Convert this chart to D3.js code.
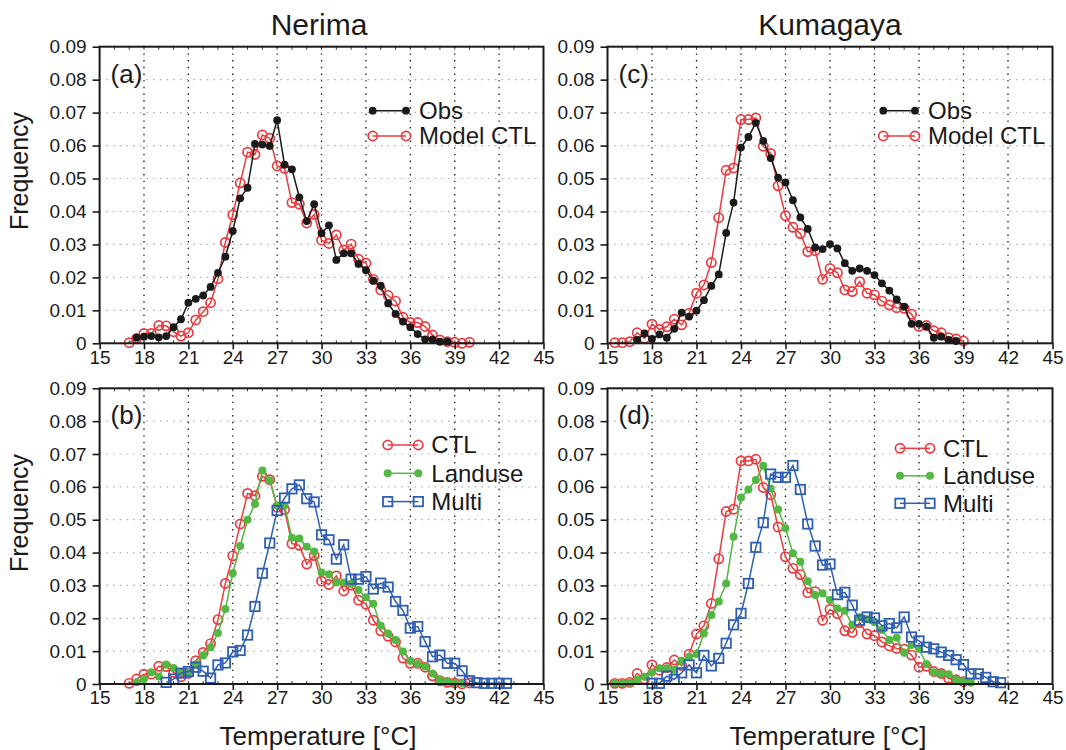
<!DOCTYPE html>
<html><head><meta charset="utf-8">
<script src="https://cdn.jsdelivr.net/npm/d3@7"></script>
<style>
body{margin:0;background:#fff;}
text{font-family:"Liberation Sans",Arial,Helvetica,sans-serif;fill:#1a1a1a;}
</style></head>
<body><svg id="chart" width="1066" height="750"></svg>
<script>
// temperature bins (°C)
const bins = [15.0,15.5,16.0,16.5,17.0,17.5,18.0,18.5,19.0,19.5,
  20.0,20.5,21.0,21.5,22.0,22.5,23.0,23.5,24.0,24.5,
  25.0,25.5,26.0,26.5,27.0,27.5,28.0,28.5,29.0,29.5,
  30.0,30.5,31.0,31.5,32.0,32.5,33.0,33.5,34.0,34.5,
  35.0,35.5,36.0,36.5,37.0,37.5,38.0,38.5,39.0,39.5,
  40.0,40.5,41.0,41.5,42.0,42.5];
const xTicks = [15,18,21,24,27,30,33,36,39,42,45];
const yTicks = [0,0.01,0.02,0.03,0.04,0.05,0.06,0.07,0.08,0.09];

const nerimaObs = [null,null,null,null,null,0.0017,0.0020,0.0022,0.0018,0.0022,
  0.0049,0.0073,0.0123,0.0135,0.0145,0.0171,0.0214,0.0263,0.0341,0.0440,
  0.0472,0.0605,0.0603,0.0599,0.0677,0.0542,0.0528,0.0443,0.0371,0.0422,
  0.0334,0.0358,0.0253,0.0273,0.0273,0.0241,0.0222,0.0190,0.0175,0.0121,
  0.0089,0.0066,0.0049,0.0028,0.0012,0.0012,0.0005,0.0005,null,null,
  null,null,null,null,null,null];
const nerimaCTL = [null,null,null,null,0.0002,0.0015,0.0030,0.0030,0.0054,0.0053,
  0.0035,0.0022,0.0032,0.0071,0.0096,0.0123,0.0196,0.0306,0.0390,0.0487,
  0.0580,0.0573,0.0632,0.0622,0.0538,0.0531,0.0427,0.0422,0.0365,0.0391,
  0.0313,0.0303,0.0329,0.0283,0.0301,0.0255,0.0243,0.0194,0.0162,0.0145,
  0.0128,0.0079,0.0063,0.0063,0.0051,0.0025,0.0010,0.0005,0.0003,0.0000,
  0.0003,null,null,null,null,null];
const nerimaLanduse = [null,null,null,null,null,0.0005,0.0015,0.0036,0.0023,0.0059,
  0.0049,0.0035,0.0035,0.0060,0.0087,0.0112,0.0155,0.0228,0.0337,0.0420,
  0.0500,0.0548,0.0650,0.0620,0.0543,0.0543,0.0445,0.0443,0.0418,0.0403,
  0.0339,0.0334,0.0309,0.0309,0.0305,0.0286,0.0264,0.0244,0.0177,0.0154,
  0.0134,0.0099,0.0071,0.0061,0.0053,0.0032,0.0012,0.0007,0.0004,0.0002,
  null,null,null,null,null,null];
const nerimaMulti = [null,null,null,null,null,null,null,null,null,0.0005,
  0.0015,0.0033,0.0038,0.0051,0.0039,0.0018,0.0058,0.0064,0.0098,0.0102,
  0.0149,0.0236,0.0337,0.0429,0.0528,0.0566,0.0594,0.0606,0.0564,0.0554,
  0.0454,0.0439,0.0380,0.0424,0.0319,0.0319,0.0327,0.0289,0.0307,0.0295,
  0.0251,0.0224,0.0170,0.0175,0.0129,0.0083,0.0088,0.0063,0.0063,0.0040,
  0.0010,0.0004,0.0002,0.0002,0.0002,0.0002];
const kumaObs = [null,null,null,null,0.0010,0.0030,0.0013,0.0027,0.0017,0.0044,
  0.0093,0.0081,0.0099,0.0131,0.0174,0.0209,0.0335,0.0427,0.0594,0.0626,
  0.0669,0.0614,0.0562,0.0503,0.0488,0.0434,0.0382,0.0347,0.0291,0.0286,
  0.0301,0.0288,0.0243,0.0220,0.0227,0.0220,0.0207,0.0182,0.0160,0.0133,
  0.0111,0.0059,0.0059,0.0051,0.0017,0.0020,0.0010,0.0007,null,null,
  null,null,null,null,null,null];
const kumaCTL = [null,0.0002,0.0002,0.0005,0.0032,0.0015,0.0058,0.0042,0.0050,0.0073,
  0.0056,0.0091,0.0152,0.0177,0.0245,0.0381,0.0525,0.0532,0.0679,0.0679,
  0.0684,0.0598,0.0576,0.0478,0.0387,0.0352,0.0333,0.0278,0.0281,0.0194,
  0.0227,0.0214,0.0162,0.0157,0.0187,0.0152,0.0147,0.0128,0.0116,0.0108,
  0.0106,0.0088,0.0051,0.0054,0.0038,0.0032,0.0017,0.0013,0.0007,null,
  null,null,null,null,null,null];
const kumaLanduse = [null,0.0002,0.0002,0.0004,0.0014,0.0022,0.0035,0.0048,0.0048,0.0043,
  0.0071,0.0083,0.0091,0.0154,0.0210,0.0251,0.0306,0.0448,0.0568,0.0592,
  0.0621,0.0664,0.0595,0.0531,0.0474,0.0398,0.0372,0.0313,0.0271,0.0276,
  0.0256,0.0230,0.0223,0.0180,0.0203,0.0197,0.0188,0.0164,0.0134,0.0141,
  0.0095,0.0119,0.0107,0.0061,0.0036,0.0032,0.0030,0.0013,0.0008,0.0004,
  null,null,null,null,null,null];
const kumaMulti = [null,null,null,null,null,null,0.0002,0.0002,0.0024,0.0014,
  0.0034,0.0058,0.0034,0.0087,0.0055,0.0078,0.0124,0.0180,0.0215,0.0306,
  0.0416,0.0491,0.0639,0.0629,0.0629,0.0665,0.0592,0.0487,0.0420,0.0362,
  0.0365,0.0272,0.0279,0.0240,0.0194,0.0204,0.0201,0.0177,0.0184,0.0171,
  0.0204,0.0143,0.0131,0.0112,0.0107,0.0097,0.0087,0.0074,0.0059,0.0031,
  0.0031,0.0020,0.0007,0.0004,null,null];

const RED = "#ec3b3f", GREEN = "#52b843", BLUE = "#2f5fb3", BLACK = "#1a1a1a";
const sty = {
  obs:   {color: BLACK, marker: "dot", r: 3.9},
  ctl:   {color: RED, marker: "ring", r: 4.6},
  land:  {color: GREEN, marker: "dot", r: 4.0},
  multi: {color: BLUE, marker: "square", r: 4.7}
};

const L = {x0: 99.6, x1: 543.5}, R = {x0: 607.5, x1: 1052.5};
const T = {y0: 46.7, y1: 343.3}, B = {y0: 388.3, y1: 684};

const panels = [
  {tag: "(a)", h: L, v: T, series: [["Model CTL", nerimaCTL, "ctl"], ["Obs", nerimaObs, "obs"]],
   legend: {x: 372.7, y: 110.7, dy: 25.3, len: 33.3, items: [["Obs","obs"],["Model CTL","ctl"]]}},
  {tag: "(c)", h: R, v: T, series: [["Model CTL", kumaCTL, "ctl"], ["Obs", kumaObs, "obs"]],
   legend: {x: 883.3, y: 110.7, dy: 25.3, len: 31.7, items: [["Obs","obs"],["Model CTL","ctl"]]}},
  {tag: "(b)", h: L, v: B, series: [["CTL", nerimaCTL, "ctl"], ["Landuse", nerimaLanduse, "land"], ["Multi", nerimaMulti, "multi"]],
   legend: {x: 387.7, y: 445, dy: 28.3, len: 30.6, items: [["CTL","ctl"],["Landuse","land"],["Multi","multi"]]}},
  {tag: "(d)", h: R, v: B, series: [["CTL", kumaCTL, "ctl"], ["Landuse", kumaLanduse, "land"], ["Multi", kumaMulti, "multi"]],
   legend: {x: 900, y: 448.3, dy: 27.5, len: 30, items: [["CTL","ctl"],["Landuse","land"],["Multi","multi"]]}}
];

const svg = d3.select("#chart");

function marker(g, x, y, s) {
  const st = sty[s];
  if (st.marker === "dot") {
    g.append("circle").attr("cx", x).attr("cy", y).attr("r", st.r).attr("fill", st.color);
  } else if (st.marker === "ring") {
    g.append("circle").attr("cx", x).attr("cy", y).attr("r", st.r).attr("fill", "none")
      .attr("stroke", st.color).attr("stroke-width", 1.7);
  } else {
    g.append("rect").attr("x", x - st.r).attr("y", y - st.r).attr("width", 2 * st.r).attr("height", 2 * st.r)
      .attr("fill", "none").attr("stroke", st.color).attr("stroke-width", 1.8);
  }
}

panels.forEach(p => {
  const x = d3.scaleLinear().domain([15, 45]).range([p.h.x0, p.h.x1]);
  const y = d3.scaleLinear().domain([0, 0.09]).range([p.v.y1, p.v.y0]);
  const g = svg.append("g");

  // grid
  g.selectAll(".hg").data(yTicks.slice(1, -1)).enter().append("line")
    .attr("x1", p.h.x0).attr("x2", p.h.x1).attr("y1", d => y(d)).attr("y2", d => y(d))
    .attr("stroke", "#a8a8a8").attr("stroke-width", 1.2).attr("stroke-dasharray", "1.4,5.3");
  g.selectAll(".vg").data(xTicks.slice(1, -1)).enter().append("line")
    .attr("x1", d => x(d)).attr("x2", d => x(d)).attr("y1", p.v.y0).attr("y2", p.v.y1)
    .attr("stroke", "#111").attr("stroke-width", 1.3).attr("stroke-dasharray", "1.4,5.3");

  // minor ticks
  const minor = d3.range(15, 45.01, 1);
  g.selectAll(".mb").data(minor).enter().append("line")
    .attr("x1", d => x(d)).attr("x2", d => x(d)).attr("y1", p.v.y1).attr("y2", p.v.y1 - 3)
    .attr("stroke", "#333").attr("stroke-width", 1);
  g.selectAll(".mt").data(minor).enter().append("line")
    .attr("x1", d => x(d)).attr("x2", d => x(d)).attr("y1", p.v.y0).attr("y2", p.v.y0 + 3)
    .attr("stroke", "#333").attr("stroke-width", 1);

  // series
  p.series.forEach(([name, vals, s]) => {
    const pts = bins.map((t, i) => [t, vals[i]]).filter(d => d[1] !== null);
    const line = d3.line().x(d => x(d[0])).y(d => y(d[1]));
    g.append("path").datum(pts).attr("d", line).attr("fill", "none")
      .attr("stroke", sty[s].color).attr("stroke-width", 1.5);
    const mg = g.append("g");
    pts.forEach(d => marker(mg, x(d[0]), y(d[1]), s));
  });

  // frame
  g.append("rect").attr("x", p.h.x0).attr("y", p.v.y0).attr("width", p.h.x1 - p.h.x0)
    .attr("height", p.v.y1 - p.v.y0).attr("fill", "none").attr("stroke", "#1a1a1a").attr("stroke-width", 2);

  // axes
  const ya = g.append("g").attr("transform", `translate(${p.h.x0},0)`)
    .call(d3.axisLeft(y).tickValues(yTicks).tickSize(7).tickPadding(6)
      .tickFormat(d => d === 0 ? "0" : d3.format(".2f")(d)));
  ya.select(".domain").remove();
  ya.selectAll("line").attr("stroke", "#1a1a1a").attr("stroke-width", 1.6);
  ya.selectAll("text").attr("font-size", 19).attr("fill", "#1a1a1a")
    .attr("font-family", "Liberation Sans,Arial,sans-serif");
  const xa = g.append("g").attr("transform", `translate(0,${p.v.y1})`)
    .call(d3.axisBottom(x).tickValues(xTicks).tickSize(6).tickPadding(1));
  xa.select(".domain").remove();
  xa.selectAll("line").attr("stroke", "#1a1a1a").attr("stroke-width", 1.6);
  xa.selectAll("text").attr("font-size", 19).attr("fill", "#1a1a1a")
    .attr("font-family", "Liberation Sans,Arial,sans-serif");

  // tag
  g.append("text").attr("x", p.h.x0 + 11).attr("y", p.v.y0 + 36).attr("font-size", 26).text(p.tag);

  // legend
  const lg = p.legend;
  lg.items.forEach(([name, s], i) => {
    const yy = lg.y + i * lg.dy;
    g.append("line").attr("x1", lg.x).attr("x2", lg.x + lg.len).attr("y1", yy).attr("y2", yy)
      .attr("stroke", sty[s].color).attr("stroke-width", 1.5);
    marker(g, lg.x, yy, s);
    marker(g, lg.x + lg.len, yy, s);
    g.append("text").attr("x", lg.x + lg.len + 13).attr("y", yy).attr("dy", "0.35em")
      .attr("font-size", 24).text(name);
  });
});

// titles and axis labels
svg.append("text").attr("x", 319).attr("y", 35).attr("text-anchor", "middle").attr("font-size", 30).text("Nerima");
svg.append("text").attr("x", 830).attr("y", 35).attr("text-anchor", "middle").attr("font-size", 30).text("Kumagaya");
[171, 513].forEach(cy => {
  svg.append("text").attr("transform", `translate(28,${cy}) rotate(-90)`).attr("text-anchor", "middle")
    .attr("font-size", 25).text("Frequency");
});
[318, 828].forEach(cx => {
  svg.append("text").attr("x", cx).attr("y", 745).attr("text-anchor", "middle").attr("font-size", 26)
    .text("Temperature [°C]");
});
</script></body></html>
